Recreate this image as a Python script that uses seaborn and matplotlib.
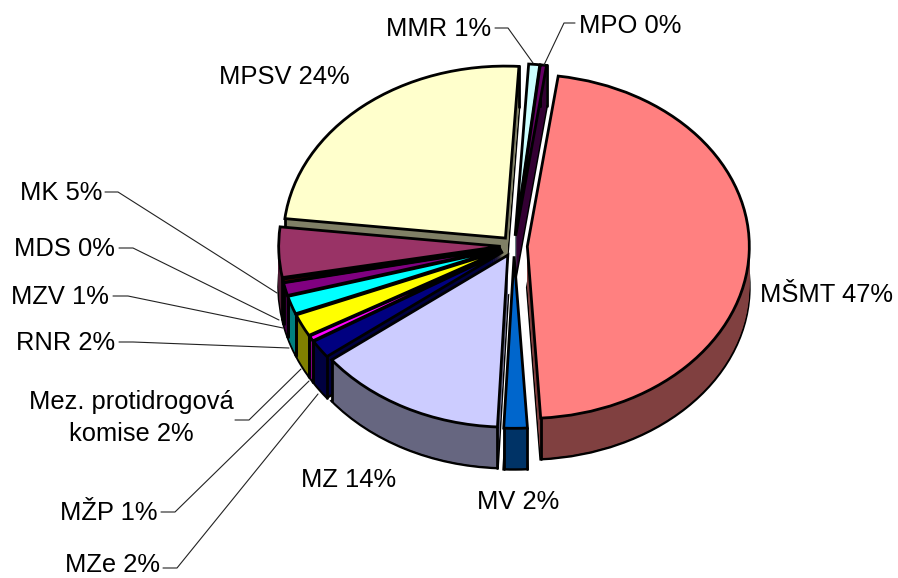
#!/usr/bin/python

import matplotlib
matplotlib.use('Agg')
import matplotlib.pyplot as plt
import numpy as np
import seaborn as sns

names = ['MŠMT', 'MV', 'MZ', 'MZe', 'MŽP', 'Mez', 'RNR', 'MZV', 'MDS', 'MK', 'MPSV', 'MMR', 'MPO']
shares = [46.7, 1.7, 13.8, 1.7, 0.5, 2.1, 1.7, 1.2, 0.3, 4.7, 24.1, 0.8, 0.45]
hexes = ['#FF8080', '#0066CC', '#CCCCFF', '#000080', '#FF00FF', '#FFFF00', '#00FFFF',
         '#800080', '#660000', '#993366', '#FFFFCC', '#CCFFFF', '#660066']
label_texts = ['MŠMT 47%', 'MV 2%', 'MZ 14%', 'MZe 2%', 'MŽP 1%', 'Mez. protidrogová\nkomise 2%',
               'RNR 2%', 'MZV 1%', 'MDS 0%', 'MK 5%', 'MPSV 24%', 'MMR 1%', 'MPO 0%']

# pixel layout of the labels: x, y, alignment
label_pos = [(760, 295, 'left'), (477, 502, 'left'), (301, 480, 'left'), (160, 565, 'right'),
             (157, 513, 'right'), (131, 418, 'center'), (115, 343, 'right'), (109, 297, 'right'),
             (115, 249, 'right'), (102, 193, 'right'), (219, 77, 'left'), (491, 29, 'right'),
             (579, 26, 'left')]
leaders = [None, None, None,
           [(163, 568), (177, 568), (318, 394)],
           [(161, 512), (175, 512), (309, 381)],
           [(235, 420), (249, 420), (301, 369)],
           [(119, 342), (133, 342), (289, 348)],
           [(113, 296), (128, 296), (283, 328)],
           [(119, 248), (133, 248), (279, 320)],
           [(105, 192), (118, 192), (277, 293)],
           None,
           [(495, 28), (508, 28), (533, 63)],
           [(575, 23), (564, 23), (544, 65)]]

W, H = 898, 578
cx, cy = 514, 246
rx, ry = 222, 172
depth_px = 41
start = 82
explode = [0.06] * len(shares)

sns.set_theme(style='white')
plt.rcParams['font.family'] = ['Liberation Sans', 'DejaVu Sans']

colors = sns.color_palette(hexes)
walls = [tuple(np.array(c) * 0.5) for c in colors]

fig = plt.figure(figsize=(W / 100, H / 100), dpi=100)
ax = fig.add_axes([0, 0, 1, 1])
edge = 2.0

# bottom outline, then the side walls stacked one pixel at a time, then the top face
ax.pie(shares, explode=explode, colors=walls, startangle=start, counterclock=False, radius=1,
       center=(0, -depth_px / ry), wedgeprops=dict(edgecolor='black', linewidth=edge, zorder=1))
for d in range(depth_px - 1, 0, -1):
    ax.pie(shares, explode=explode, colors=walls, startangle=start, counterclock=False, radius=1,
           center=(0, -d / ry), wedgeprops=dict(edgecolor='none', linewidth=0, zorder=2))
top, _ = ax.pie(shares, explode=explode, colors=colors, startangle=start, counterclock=False, radius=1,
                wedgeprops=dict(edgecolor='black', linewidth=edge, zorder=4))

# vertical edges of the walls at the rim of every slice
for w in top:
    for th in (w.theta1, w.theta2):
        x = w.center[0] + w.r * np.cos(np.radians(th))
        y = w.center[1] + w.r * np.sin(np.radians(th))
        ax.plot([x, x], [y, y - depth_px / ry], color='black', lw=edge, zorder=3, solid_capstyle='round')

ax.set_aspect('auto')
ax.set_xlim(-cx / rx, (W - cx) / rx)
ax.set_ylim(-(H - cy) / ry, cy / ry)
ax.axis('off')

# labels and leader lines in pixel coordinates
lab = fig.add_axes([0, 0, 1, 1])
lab.set_xlim(0, W)
lab.set_ylim(H, 0)
lab.axis('off')
lab.patch.set_alpha(0)
for txt, (x, y, ha), lead in zip(label_texts, label_pos, leaders):
    lab.text(x, y, txt, ha=ha, va='center', fontsize=18.4, color='black', linespacing=1.45)
    if lead is not None:
        lab.plot([p[0] for p in lead], [p[1] for p in lead], color='#222222', lw=0.8)

fig.savefig('out.png', dpi=100, facecolor='white')
